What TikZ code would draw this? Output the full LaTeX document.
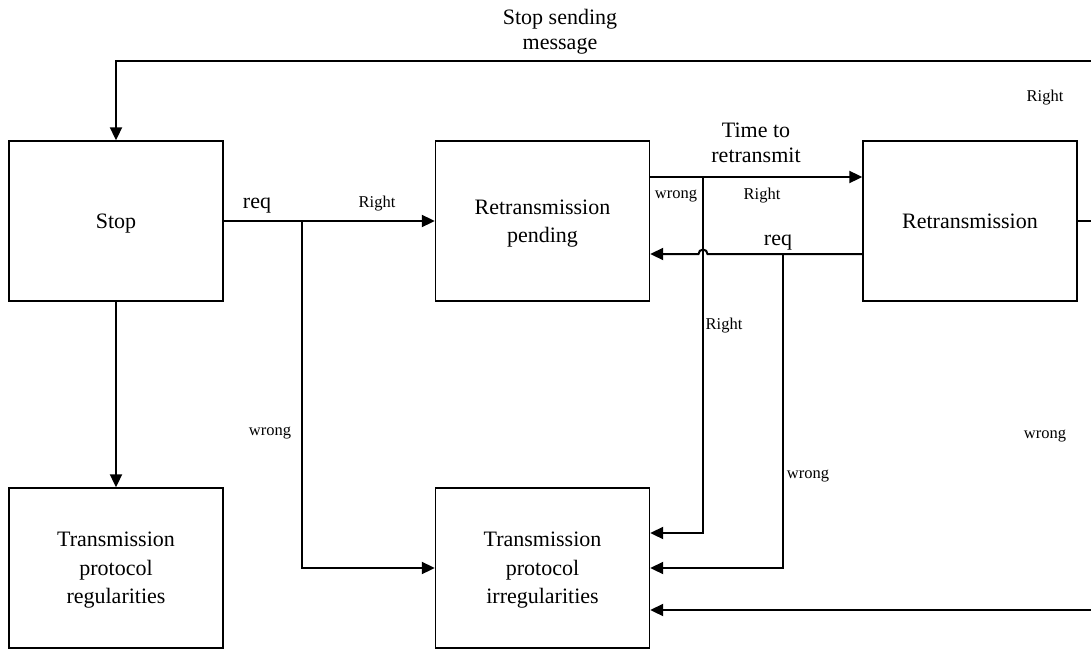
\documentclass[tikz,border=0pt]{standalone}
\usepackage{fontspec}
\setmainfont{Liberation Serif}
\usetikzlibrary{arrows.meta}
\begin{document}
\begin{tikzpicture}[x=1pt,y=-1pt,
  state/.style={draw,line width=1.4pt,minimum width=214pt,minimum height=160pt,
    align=center,inner sep=2pt,text depth=0pt,font=\fontsize{22}{28.5}\selectfont},
  link/.style={line width=2pt},
  arr/.style={link,-{Triangle[length=13pt,width=12pt]}},
  big/.style={font=\fontsize{22}{25}\selectfont,align=center,inner sep=0pt},
  small/.style={font=\fontsize{16.5}{19}\selectfont,inner sep=0pt}]
\useasboundingbox (0,0) rectangle (1091,650);

% states
\node[state] (stop) at (116,221) {Stop};
\node[state] (pend) at (542.5,221) {Retransmission\\pending};
\node[state] (ret)  at (970,221) {Retransmission};
\node[state] (reg)  at (116,568) {Transmission\\protocol\\regularities};
\node[state] (irr)  at (542.5,568) {Transmission\\protocol\\irregularities};

% loose ends running off to the right
\coordinate (rtop) at (1091,61);
\coordinate (rmid) at (1091,221);
\coordinate (rbot) at (1091,610);

% branch points
\coordinate (b1) at (302,221);
\coordinate (b2) at (703,177);
\coordinate (b3) at (783,254);

% connectors
\draw[arr] (rtop) -| (stop.north);
\draw[link] (ret.east) -- (rmid);
\draw[arr] (rbot) -- (rbot -| irr.east);
\draw[arr] (stop.south) -- (reg.north);
\draw[arr] (stop.east) -- (pend.west);
\draw[arr] (b1) |- (irr.west);
\draw[arr] ([yshift=44pt]pend.east) -- ([yshift=44pt]ret.west);
\draw[arr] (b2) |- ([yshift=35pt]irr.east);
\draw[arr] ([yshift=-33pt]ret.west) -- (707.5,254)
  arc[start angle=0,end angle=180,radius=4.5pt] -- ([yshift=-33pt]pend.east);
\draw[arr] (b3) |- (irr.east);

% labels
\node[big] (lstop) at (560,32) {Stop sending\\message};
\node[big] (ltime) at (756,143) {Time to\\retransmit};
\node[big] (lreq1) at (257,206) {req};
\node[big] (lreq2) at (778,243) {req};
\node[small] (lr1) at (377,204) {Right};
\node[small] (lr2) at (762,196) {Right};
\node[small] (lr3) at (724,326) {Right};
\node[small] (lr4) at (1045,98) {Right};
\node[small] (lw1) at (270,433) {wrong};
\node[small] (lw2) at (676,196) {wrong};
\node[small] (lw3) at (808,476) {wrong};
\node[small] (lw4) at (1045,436) {wrong};
\end{tikzpicture}
\end{document}
